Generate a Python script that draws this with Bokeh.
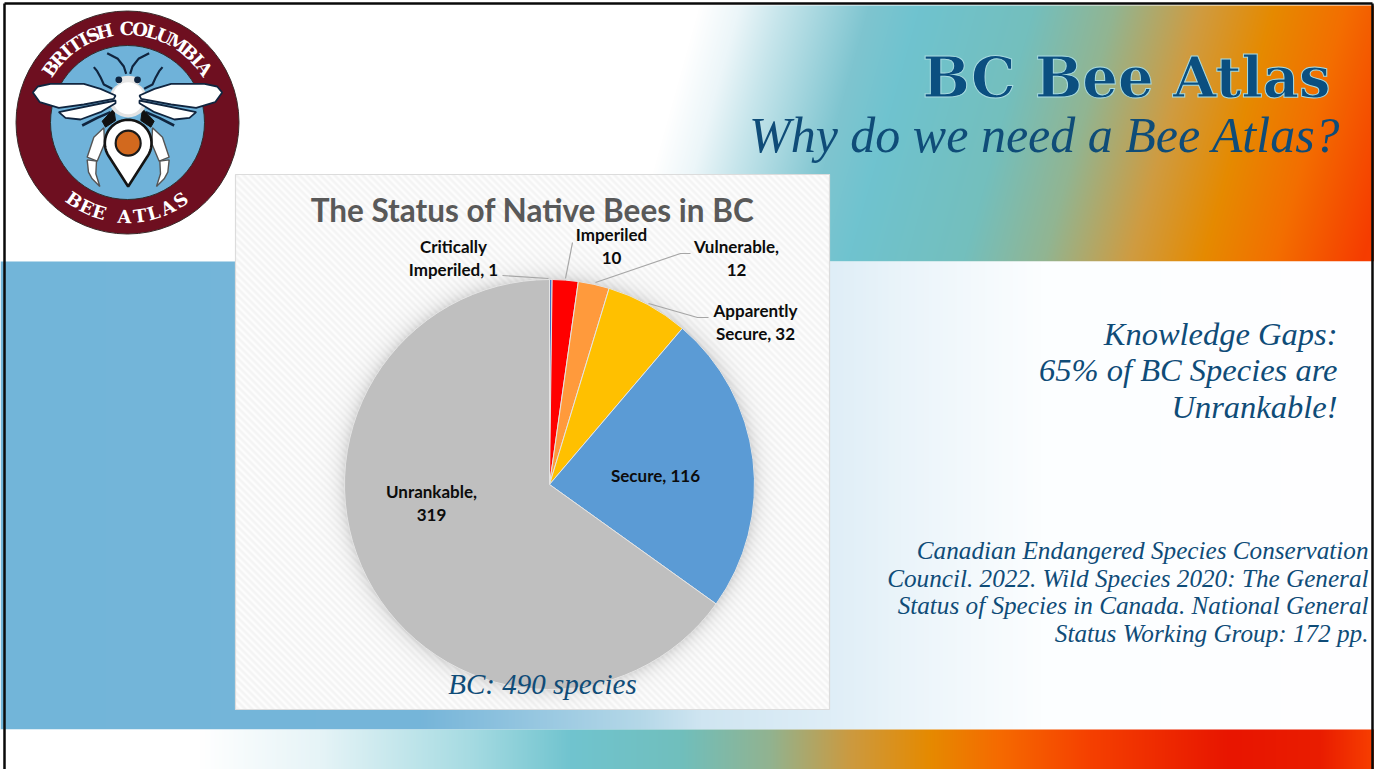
import math
import numpy as np
from bokeh.core.properties import value
from bokeh.embed import file_html
from bokeh.models import ColumnDataSource, Range1d
from bokeh.plotting import figure
from bokeh.resources import INLINE

W, H = 1374, 769

# Species counts by conservation status, clockwise from twelve o'clock
statuses = ["Critically Imperiled", "Imperiled", "Vulnerable", "Apparently Secure", "Secure", "Unrankable"]
counts = [1, 10, 12, 32, 116, 319]
slice_colors = ["#4472c4", "#ff0000", "#ff9a3c", "#ffc000", "#5b9bd5", "#bfbfbf"]

# Data labels: line one, line two, centre x and the y of each line
label_lines = [
    ("Critically", "Imperiled, 1", 453, 246, 269),
    ("Imperiled", "10", 611, 234, 257),
    ("Vulnerable,", "12", 736, 246, 269),
    ("Apparently", "Secure, 32", 755, 310, 333),
    ("Secure, 116", None, 655, 475, None),
    ("Unrankable,", "319", 431, 491, 514),
]
leaders = [
    ([502, 548], [275, 278]),
    ([572, 565], [242, 278]),
    ([690, 680, 595], [253, 253, 282]),
    ([708, 697, 648], [317, 317, 303]),
]

# Gradient stops for the bands: position, colour
top_stops = [(0, "#ffffff"), (665, "#ffffff"), (705, "#ecf6f9"), (745, "#c8e6ec"), (834, "#7fc5d0"), (885, "#6fc3cf"),
             (1000, "#74bfbd"), (1080, "#92b592"), (1165, "#cf9c42"), (1240, "#e68a00"), (1310, "#f36f00"), (1400, "#f63c00")]
mid_stops = [(0, "#72b5d9"), (420, "#76b5d9"), (640, "#b5d8e8"), (700, "#cfe5f1"), (830, "#dfeef7"), (900, "#eaf4fa"),
             (1040, "#fcfeff"), (1400, "#ffffff")]
foot_stops = [(0, "#ffffff"), (200, "#ffffff"), (320, "#e6f4f7"), (470, "#a6dbe2"), (570, "#71c4cf"), (680, "#70bfbd"),
              (770, "#92b390"), (850, "#cc9a40"), (930, "#e68a00"), (1000, "#f66a00"), (1090, "#f54000"),
              (1230, "#e81500"), (1320, "#ea1d00"), (1374, "#f84000")]

PANEL = (235, 174, 829, 709)
CX, CY, R = 549, 484, 205


def rgb(h):
    return [int(h[i:i + 2], 16) for i in (1, 3, 5)]


def ramp(t, stops):
    xs = [s[0] for s in stops]
    cols = np.array([rgb(s[1]) for s in stops], dtype=float)
    return np.stack([np.interp(t, xs, cols[:, k]) for k in range(3)], axis=-1)


def as_rgba(arr):
    a = np.clip(arr, 0, 255).astype(np.uint32)
    return (255 << 24) | (a[..., 2] << 16) | (a[..., 1] << 8) | a[..., 0]


def Y(py):
    return H - py


p = figure(width=W, height=H, x_range=Range1d(0, W), y_range=Range1d(0, H),
           output_backend="svg", toolbar_location=None, min_border=0)
p.axis.visible = False
p.grid.visible = False
p.outline_line_color = None
p.background_fill_color = "white"
p.border_fill_color = "white"


def put_image(arr, x0, y0, x1, y1):
    # rows of arr run downward on screen; image glyphs run upward
    p.image_rgba(image=[as_rgba(arr)[::-1]], x=x0, y=Y(y1), dw=x1 - x0, dh=y1 - y0)


# Background bands
xx, yy = np.meshgrid(np.arange(W) + .5, np.arange(5, 261) + .5)
put_image(ramp(xx + 0.28 * (yy - 130), top_stops), 0, 5, W, 261)
xx, yy = np.meshgrid(np.arange(W) + .5, np.arange(261, 729) + .5)
put_image(ramp(xx, mid_stops), 0, 261, W, 729)
xx, yy = np.meshgrid(np.arange(W) + .5, np.arange(729, H) + .5)
put_image(ramp(xx, foot_stops), 0, 729, W, H)

# Chart panel: fine diagonal stripes with a soft glow round the pie
x0, y0, x1, y1 = PANEL
xx, yy = np.meshgrid(np.arange(x0, x1) + .5, np.arange(y0, y1) + .5)
stripes = 249.0 + 6.0 * np.sin((xx - yy) * 2 * math.pi / 7)
dist = np.hypot(xx - CX, yy - CY) - R
glow = np.exp(-np.maximum(dist, 0) / 8.0) * 32
panel = np.repeat((stripes - glow)[..., None], 3, axis=2)
put_image(panel, x0, y0, x1, y1)
p.quad(left=x0, right=x1, bottom=Y(y1), top=Y(y0), fill_color=None, line_color="#dcdcdc", line_width=1.2)

# Pie
total = sum(counts)
edges = np.cumsum([0] + counts) / total * 2 * math.pi
pie = ColumnDataSource(dict(
    start=[math.pi / 2 - a for a in edges[:-1]],
    end=[math.pi / 2 - a for a in edges[1:]],
    color=slice_colors,
    status=statuses,
    count=counts,
))
p.wedge(x=CX, y=Y(CY), radius=R, start_angle="start", end_angle="end", direction="clock",
        fill_color="color", line_color="#e4e4e4", line_width=1, source=pie)

for lx_, ly_ in leaders:
    p.line(lx_, [Y(v) for v in ly_], line_color="#a6a6a6", line_width=1.2)

LABEL_FONT = value("Lato")
for a, b, x, ya, yb in label_lines:
    p.text(x=[x], y=[Y(ya)], text=[a], text_font=LABEL_FONT, text_font_style="bold", text_font_size="17px",
           text_color="#0c0c0c", text_align="center", text_baseline="middle")
    if b:
        p.text(x=[x], y=[Y(yb)], text=[b], text_font=LABEL_FONT, text_font_style="bold", text_font_size="17px",
               text_color="#0c0c0c", text_align="center", text_baseline="middle")

p.text(x=[532], y=[Y(209)], text=["The Status of Native Bees in BC"], text_font=LABEL_FONT, text_font_style="bold",
       text_font_size="31.5px", text_color="#595959", text_align="center", text_baseline="middle")
SERIF = value("Liberation Serif")
NAVY = "#0f4c78"
p.text(x=[542], y=[Y(683)], text=["BC: 490 species"], text_font=SERIF, text_font_style="italic",
       text_font_size="29px", text_color=NAVY, text_align="center", text_baseline="middle")

# Heading
p.text(x=[1330], y=[Y(76)], text=["BC Bee Atlas"], text_font=value("DejaVu Serif"), text_font_style="bold",
       text_font_size="56px", text_color="#0b4f80", text_outline_color="#a8dbe0", text_align="right",
       text_baseline="middle")
p.text(x=[1340], y=[Y(134)], text=["Why do we need a Bee Atlas?"], text_font=SERIF, text_font_style="italic",
       text_font_size="50px", text_color=NAVY, text_align="right", text_baseline="middle")

# Right-hand notes
note_lines = ["Knowledge Gaps:", "65% of BC Species are", "Unrankable!"]
for txt, y in zip(note_lines, [333, 369, 406]):
    p.text(x=[1337], y=[Y(y)], text=[txt], text_font=SERIF, text_font_style="italic", text_font_size="32.5px",
           text_color=NAVY, text_align="right", text_baseline="middle")
cite_lines = ["Canadian Endangered Species Conservation", "Council. 2022. Wild Species 2020: The General",
              "Status of Species in Canada. National General", "Status Working Group: 172 pp."]
for txt, y in zip(cite_lines, [550, 578, 605, 633]):
    p.text(x=[1368], y=[Y(y)], text=[txt], text_font=SERIF, text_font_style="italic", text_font_size="25.2px",
           text_color=NAVY, text_align="right", text_baseline="middle")

# Slide frame
FRAME = "#0a0a0a"
p.line([4, 4], [Y(3), Y(H)], line_color=FRAME, line_width=2.5)
p.line([4, 1372], [Y(3), Y(3)], line_color=FRAME, line_width=2.5)
p.line([1372, 1372], [Y(3), Y(H)], line_color=FRAME, line_width=2.5)

# Logo roundel; outlines below are on a 3x grid anchored at (60, 30), axis at 203
LX, LY = 127, 122
AXIS = 203
INK = "#10253f"
p.circle(x=LX, y=Y(LY), radius=111.5, fill_color="#6e0f20", line_color="#3a2a2a", line_width=1)
p.circle(x=LX, y=Y(LY), radius=77, fill_color="#6fb2d9", line_color="#2e2e2e", line_width=1)


def gx(v):
    return 60 + v / 3


def gy(v):
    return Y(30 + v / 3)


def flip(xs):
    return [2 * AXIS - v for v in xs]


def both_sides(xs, ys, draw):
    draw([gx(v) for v in xs], [gy(v) for v in ys])
    draw([gx(v) for v in flip(xs)], [gy(v) for v in ys])


def stroke(color, width):
    return lambda xs, ys: p.line(xs, ys, line_color=color, line_width=width)


def shape(fill, color, width):
    return lambda xs, ys: p.patch(xs, ys, fill_color=fill, line_color=color, line_width=width)


# Antennae, forelegs and middle legs
both_sides([197, 190, 172, 140], [130, 108, 85, 68], stroke(INK, 2.2))
both_sides([155, 130, 120, 110, 100], [175, 162, 140, 122, 110], stroke(INK, 2.2))
both_sides([150, 110, 65], [245, 262, 285], stroke(INK, 2.6))
both_sides([160, 125, 135, 165], [235, 272, 290, 270], shape("#111111", "#111111", 1))

# Hind legs: thigh and claw
both_sides([130, 100, 80, 110, 132], [292, 320, 380, 392, 340], shape("white", "#555555", 1.4))
both_sides([80, 84, 95, 118, 106, 108], [388, 425, 445, 468, 430, 392], shape("white", "#555555", 1.4))

# Thorax and head
p.ellipse(x=gx(AXIS), y=gy(152), width=24, height=11, fill_color="#e6e6e6", line_color=None)
p.circle(x=[gx(175), gx(231)], y=[gy(148)] * 2, radius=3.4, fill_color=INK, line_color=None)
p.ellipse(x=gx(AXIS), y=gy(207), width=38, height=36, fill_color="#e4e4e4", line_color=None)
p.ellipse(x=gx(AXIS), y=gy(203), width=31, height=32, fill_color="white", line_color=None)

# Wings, taken on a plain 3x grid from the top-left corner
fore_x = [345, 300, 250, 150, 112, 97, 118, 175, 250, 340]
fore_y = [285, 265, 250, 250, 258, 276, 305, 322, 312, 295]
hind_x = [345, 175, 195, 240, 300, 345]
hind_y = [300, 335, 352, 357, 335, 308]
for xs, ys in ((fore_x, fore_y), (hind_x, hind_y)):
    p.patch([v / 3 for v in xs], [Y(v / 3) for v in ys], fill_color="white", line_color=INK, line_width=1.8)
    p.patch([(762 - v) / 3 for v in xs], [Y(v / 3) for v in ys], fill_color="white", line_color=INK, line_width=1.8)

# Map pin on the abdomen: arc over the top, closing at the tip
PIN_Y, PIN_R, TIP_Y = 338, 70, 468
spread = math.acos(PIN_R / (TIP_Y - PIN_Y))
theta = np.linspace(3 * math.pi / 2 - spread, -math.pi / 2 + spread, 80)
pin_x = [gx(AXIS + PIN_R * math.cos(t)) for t in theta] + [gx(AXIS)]
pin_y = [gy(PIN_Y - PIN_R * math.sin(t)) for t in theta] + [gy(TIP_Y)]
p.patch(pin_x, pin_y, fill_color="white", line_color="#141414", line_width=2.6)
p.circle(x=gx(AXIS), y=gy(PIN_Y), radius=12.5, fill_color="#d2691e", line_color="#1a1a1a", line_width=2.2)

# Lettering set on the ring, one text glyph per letter
ring_serif = value("DejaVu Serif")
ADVANCE = {"I": 0.62, " ": 0.7, "M": 1.3, "T": 0.95, "L": 0.9, "A": 1.1, "S": 0.9, "E": 0.9, "B": 1.0}


def arc_text(txt, centre_deg, span_deg, radius, top, size):
    # angles measured clockwise from twelve o'clock
    widths = [ADVANCE.get(c, 1.0) for c in txt]
    marks = np.cumsum(widths) - np.array(widths) / 2
    marks = (marks - marks[0]) / (marks[-1] - marks[0]) - 0.5
    for ch, m in zip(txt, marks):
        if ch == " ":
            continue
        off = m * span_deg
        rad = math.radians(centre_deg + off if top else centre_deg - off)
        px = LX + radius * math.sin(rad)
        py = LY - radius * math.cos(rad)
        rot = -rad if top else math.pi - rad
        p.text(x=[px], y=[Y(py)], text=[ch], angle=[rot], text_font=ring_serif, text_font_style="bold",
               text_font_size=f"{size}px", text_color="white", text_align="center", text_baseline="middle")


arc_text("BRITISH COLUMBIA", 0, 110, 94, True, 18)
arc_text("BEE ATLAS", 180, 69, 94, False, 18)

open("out.html", "w").write(file_html(p, INLINE))
